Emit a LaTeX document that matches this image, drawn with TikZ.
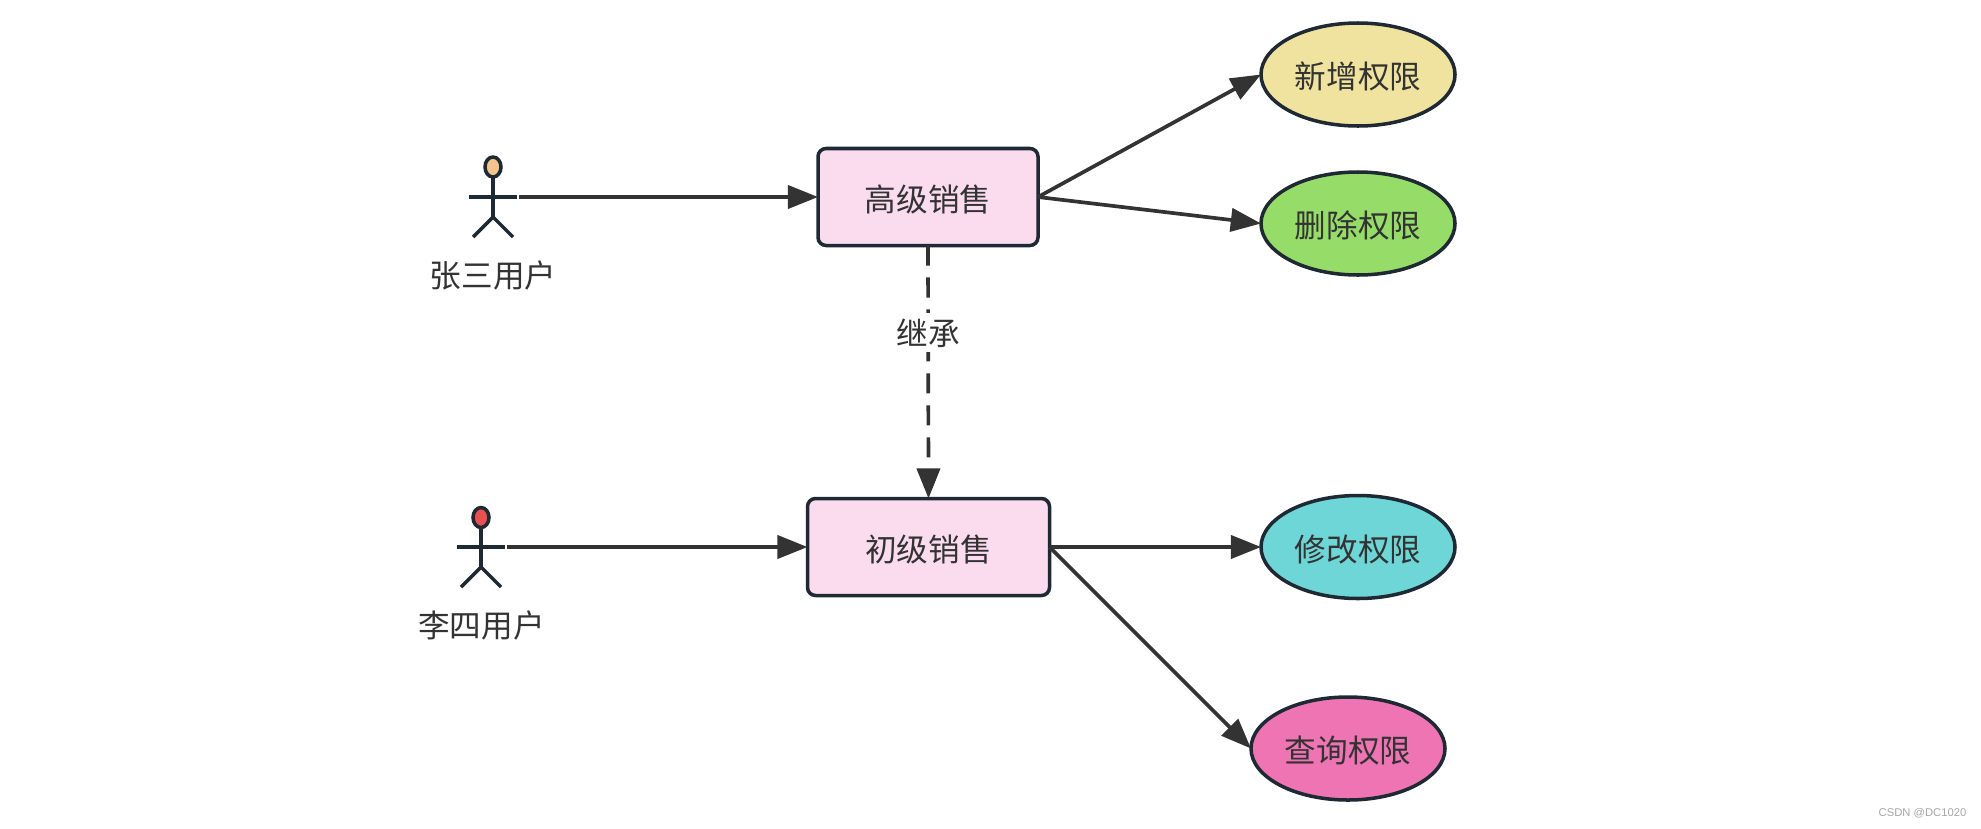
\documentclass[tikz,border=0pt]{standalone}
\usepackage{fontspec}
\setmainfont{Noto Sans CJK SC}
\newfontfamily\markfont{Liberation Sans}
\usepackage{tikz}
\usetikzlibrary{arrows.meta,shapes.geometric,positioning}
\definecolor{lineblack}{RGB}{51,51,51}
\definecolor{borderblack}{RGB}{31,41,51}
\definecolor{rolepink}{RGB}{250,220,238}
\definecolor{permyellow}{RGB}{240,227,160}
\definecolor{permgreen}{RGB}{150,220,105}
\definecolor{permteal}{RGB}{110,214,214}
\definecolor{permpink}{RGB}{238,116,180}
\definecolor{headorange}{RGB}{245,196,142}
\definecolor{headred}{RGB}{233,80,79}
\tikzstyle{arrow} = [line width=1.05pt,color=lineblack,-{Triangle[length=8.6pt,width=6.6pt]}]
\tikzstyle{dasharrow} = [arrow,dash pattern=on 5.7pt off 3.4pt]
\tikzstyle{rolebox} = [rectangle, rounded corners=2.3pt, minimum height=0.97cm, outer sep=0pt, text height=8.4pt, text depth=0pt, align=center, draw=borderblack, fill=rolepink, line width=1pt, text=lineblack, font=\fontsize{9}{11}\selectfont]
\tikzstyle{permission} = [ellipse, minimum width=1.94cm, minimum height=1.03cm, inner sep=0pt, outer sep=0pt, text height=8.2pt, text depth=0pt, draw=borderblack, line width=1pt, text=lineblack, font=\fontsize{9}{11}\selectfont]
\tikzstyle{actorhead} = [ellipse, minimum width=0.16cm, minimum height=0.2cm, inner sep=0pt, outer sep=0pt, draw=borderblack, line width=1pt]
\tikzstyle{actorline} = [line width=1pt, color=borderblack]
\tikzstyle{actorlabel} = [text=lineblack, font=\fontsize{9}{11}\selectfont]
\begin{document}
\begin{tikzpicture}
    \useasboundingbox (0,0) rectangle (19.81,-8.28);

    % Roles
    \node[rolebox, minimum width=2.2cm] (senior) at (9.28,-1.97) {高级销售};
    \node[rolebox, minimum width=2.42cm] (junior) at (9.285,-5.47) {初级销售};

    % Permissions
    \node[permission, fill=permyellow] (add) at (13.58,-0.745) {新增权限};
    \node[permission, fill=permgreen] (delete) at (13.58,-2.235) {删除权限};
    \node[permission, fill=permteal] (modify) at (13.58,-5.47) {修改权限};
    \node[permission, fill=permpink] (query) at (13.48,-7.485) {查询权限};

    % First actor
    \node[actorhead, fill=headorange] (zshead) at (4.93,-1.67) {};
    \coordinate (zship) at (4.93,-2.17);
    \coordinate (zshand) at (5.19,-1.97);
    \draw[actorline] (zshead) -- (zship);
    \draw[actorline] (4.69,-1.97) -- (5.17,-1.97);
    \draw[actorline] (4.73,-2.37) -- (zship) -- (5.13,-2.37);
    \node[actorlabel] (zslabel) at (4.93,-2.75) {张三用户};

    % Second actor
    \node[actorhead, fill=headred] (lshead) at (4.81,-5.175) {};
    \coordinate (lship) at (4.81,-5.67);
    \coordinate (lshand) at (5.07,-5.47);
    \draw[actorline] (lshead) -- (lship);
    \draw[actorline] (4.57,-5.47) -- (5.05,-5.47);
    \draw[actorline] (4.61,-5.87) -- (lship) -- (5.01,-5.87);
    \node[actorlabel] (lslabel) at (4.815,-6.25) {李四用户};

    % Connections
    \draw[arrow] (zshand) -- (senior.west);
    \draw[arrow] (lshand) -- (junior.west);
    \draw[arrow] (senior.east) -- (add.west);
    \draw[arrow] (senior.east) -- (delete.west);
    \draw[arrow] (junior.east) -- (modify.west);
    \draw[arrow] (junior.east) -- (query.west);

    % Inheritance
    \draw[dasharrow] (senior.south) -- node[pos=0.345, fill=white, inner sep=1.5pt, text=lineblack, font=\fontsize{9}{11}\selectfont] (inherit) {继承} (junior.north);

    % Watermark
    \node[font=\markfont\fontsize{3.2}{4}\selectfont, text=black!35, anchor=east, inner sep=0pt] (mark) at (19.67,-8.13) {CSDN @DC1020};
\end{tikzpicture}
\end{document}
